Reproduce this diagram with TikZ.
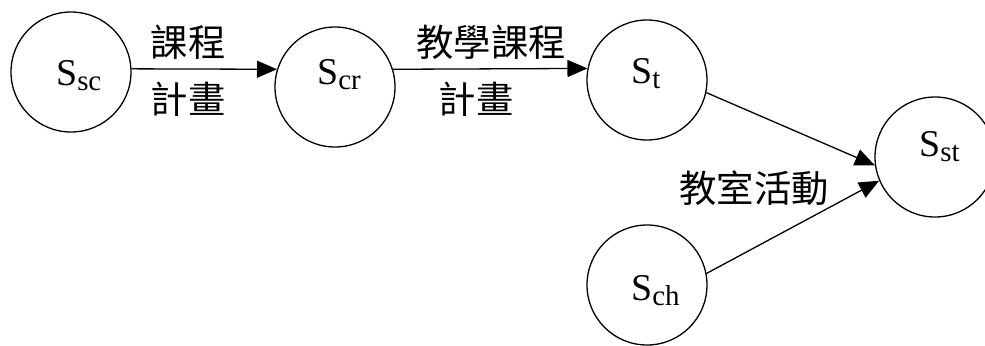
\documentclass[tikz,border=0pt]{standalone}
\usepackage{fontspec}
\setmainfont{Liberation Serif}
\newfontfamily\cjk{Noto Sans CJK TC}
\usetikzlibrary{arrows.meta}
\tikzset{
  state/.style={circle, draw, line width=1.3bp, minimum size=120bp, inner sep=0pt},
  stxt/.style={anchor=base west, inner sep=0pt, font=\fontsize{38}{38}\selectfont},
  lbl/.style={font=\cjk\fontsize{37.5}{37.5}\selectfont, inner sep=0pt},
  conn/.style={line width=1.3bp, -{Triangle[length=20bp,width=17bp]}},
}
\newcommand{\sub}[1]{\raisebox{-5bp}{\fontsize{29}{29}\selectfont #1}}
\begin{document}
\begin{tikzpicture}[x=1bp,y=-1bp]
\useasboundingbox (0,0) rectangle (985,345);
\node[state] (ssc) at (71,72) {};
\node[state] (scr) at (335,87) {};
\node[state] (st) at (647,80) {};
\node[state] (sst) at (935,157) {};
\node[state] (sch) at (647,285) {};
\node[stxt] (tssc) at (56,85) {S\sub{sc}};
\node[stxt] (tscr) at (317,84) {S\sub{cr}};
\node[stxt] (tst) at (631,83) {S\sub{t}};
\node[stxt] (tsst) at (919,156) {S\sub{st}};
\node[stxt] (tsch) at (631,300) {S\sub{ch}};
\draw[conn] (ssc.3) -- (scr.163);
\draw[conn] (scr.17) -- (st.169);
\draw[conn] (st.-12) -- (sst.188);
\draw[conn] (sch.11) -- (sst.203);
\node[lbl] (l1) at (188,42) {課程};
\node[lbl] (l2) at (188,99) {計畫};
\node[lbl] (l3) at (491,42) {教學課程};
\node[lbl] (l4) at (476,99) {計畫};
\node[lbl] (l5) at (754,188) {教室活動};
\end{tikzpicture}
\end{document}
